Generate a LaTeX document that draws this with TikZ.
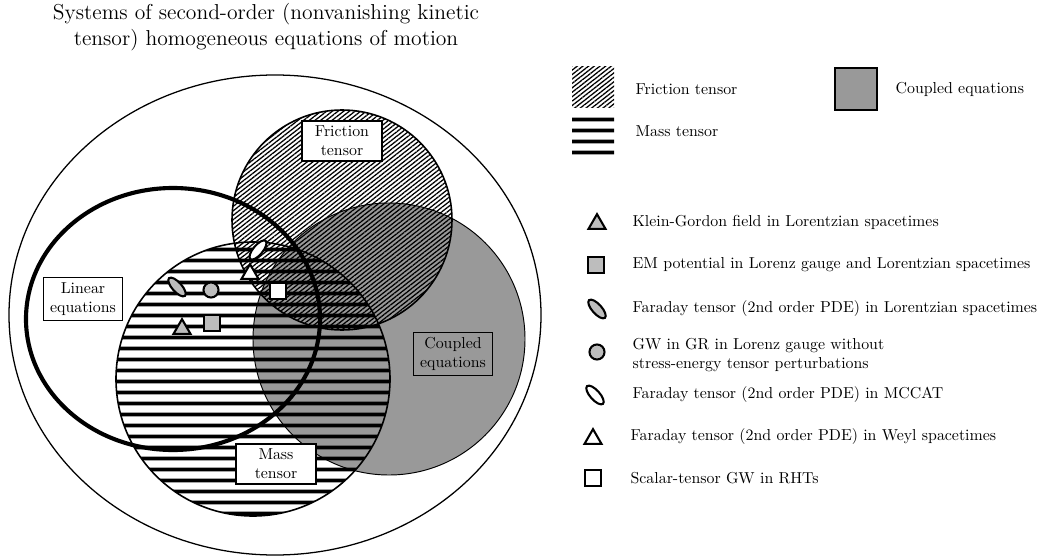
\documentclass[tikz,border=0pt]{standalone}
\usetikzlibrary{patterns.meta,shapes.geometric}

\definecolor{coupgray}{gray}{0.6}
\definecolor{markgray}{gray}{0.74}

\tikzset{
    fricfill/.style={pattern={Lines[angle=38,distance=2.2pt,line width=0.8pt]}},
    massfill/.style={pattern={Lines[angle=0,distance=6.9pt,line width=2.3pt]}},
    setbox/.style={draw, fill=white, align=center, inner sep=3pt, minimum width=50pt},
    mktri/.style={regular polygon, regular polygon sides=3, draw, line width=1.3pt, inner sep=0pt, minimum size=12.4pt},
    mksq/.style={rectangle, draw, line width=1.3pt, inner sep=0pt, minimum size=9.5pt},
    mkdot/.style={circle, draw, line width=1.3pt, inner sep=0pt, minimum size=9.5pt},
    mkoval/.style={ellipse, draw, line width=1.3pt, inner sep=0pt, minimum width=15pt, minimum height=6pt},
    legtext/.style={anchor=west, align=left}
}

\begin{document}
\begin{tikzpicture}[x=0.63pt,y=-0.63pt]
    \useasboundingbox (0,0) rectangle (1039,557);

    \node[align=center, font=\fontsize{13.6}{16}\selectfont] (title) at (266,27)
        {Systems of second-order (nonvanishing kinetic\\tensor) homogeneous equations of motion};

    % sets
    \draw[line width=0.8pt] (275,315) ellipse [x radius=266, y radius=240];
    \fill[coupgray] (389,339) circle [radius=136];
    \fill[fricfill] (342,220) circle [radius=110];
    \fill[massfill] (253,379) circle [radius=137];
    \draw[line width=0.6pt] (389,339) circle [radius=136];
    \draw[line width=1pt] (342,220) circle [radius=110];
    \draw[line width=1pt] (253,379) circle [radius=137];
    \draw[line width=2.6pt] (173,319) ellipse [x radius=147, y radius=131];

    \node[setbox, line width=1.2pt] (fric) at (342,141) {Friction\\tensor};
    \node[setbox, line width=0.6pt] (lin) at (83,299) {Linear\\equations};
    \node[setbox, line width=0.6pt, fill=coupgray] (coup) at (453,354) {Coupled\\equations};
    \node[setbox, line width=1.2pt] (mass) at (276,464) {Mass\\tensor};

    % examples
    \node[mkoval, fill=white, rotate=50] (mccat) at (258,250) {};
    \node[mktri, fill=white] (weyl) at (250,274) {};
    \node[mkoval, fill=markgray, rotate=-48] (farlor) at (177,287) {};
    \node[mkdot, fill=markgray] (gw) at (211,290) {};
    \node[mksq, fill=white] (rht) at (278,291) {};
    \node[mktri, fill=markgray] (kg) at (182,329) {};
    \node[mksq, fill=markgray] (em) at (212,323) {};

    % legend
    \fill[fricfill] (572,67) rectangle (614,108);
    \fill[massfill] (572,112) rectangle (614,155);
    \node[legtext] (lfric) at (630,89) {Friction tensor};
    \node[legtext] (lmass) at (630,131) {Mass tensor};
    \draw[line width=1.2pt, fill=coupgray] (835,68) rectangle (877,110);
    \node[legtext] (lcoup) at (890,89) {Coupled equations};

    \node[mktri, fill=markgray] (kgl) at (597,224) {};
    \node[legtext] (kgt) at (627,222) {Klein-Gordon field in Lorentzian spacetimes};
    \node[mksq, fill=markgray] (eml) at (596,265) {};
    \node[legtext] (emt) at (627,265) {EM potential in Lorenz gauge and Lorentzian spacetimes};
    \node[mkoval, fill=markgray, rotate=-48] (farlorl) at (597,309) {};
    \node[legtext] (farlort) at (627,309) {Faraday tensor (2nd order PDE) in Lorentzian spacetimes};
    \node[mkdot, fill=markgray] (gwl) at (597,352) {};
    \node[legtext] (gwt) at (627,355) {GW in GR in Lorenz gauge without\\stress-energy tensor perturbations};
    \node[mkoval, fill=white, rotate=-48] (mccatl) at (595,395) {};
    \node[legtext] (mccatt) at (627,395) {Faraday tensor (2nd order PDE) in MCCAT};
    \node[mktri, fill=white] (weyll) at (593,439) {};
    \node[legtext] (weylt) at (625,437) {Faraday tensor (2nd order PDE) in Weyl spacetimes};
    \node[mksq, fill=white] (rhtl) at (593,478) {};
    \node[legtext] (rhtt) at (625,478) {Scalar-tensor GW in RHTs};
\end{tikzpicture}
\end{document}
